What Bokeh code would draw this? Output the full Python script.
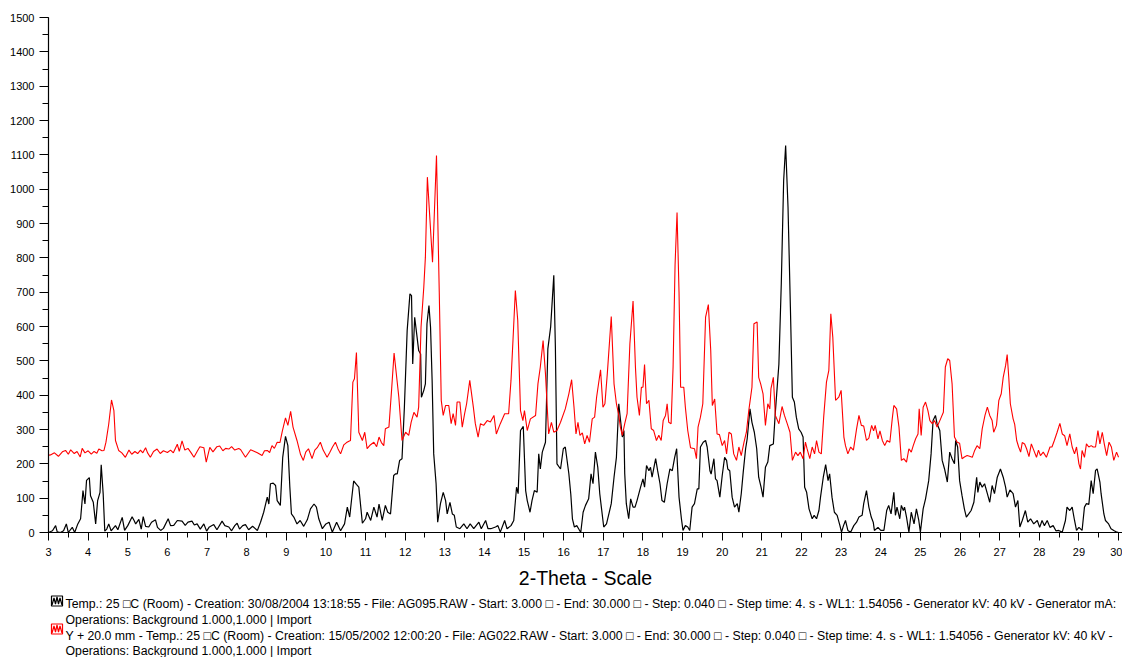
from bokeh.plotting import figure
from bokeh.models import Range1d, FixedTicker
from bokeh.layouts import column
from bokeh.embed import file_html
from bokeh.resources import INLINE
from bokeh.core.properties import value

# ---------------- data ----------------
# Scan 1 (black): 2-Theta positions and counts
black_x = [3.0, 3.1, 3.18, 3.22, 3.3, 3.38, 3.45, 3.5, 3.6, 3.66, 3.74, 3.81, 3.87, 3.92, 3.96, 4.03, 4.06,
           4.13, 4.19, 4.24, 4.3, 4.33, 4.38, 4.42, 4.47, 4.52, 4.58, 4.69, 4.75, 4.86, 4.92, 5.0, 5.11, 5.16,
           5.2, 5.28, 5.34, 5.39, 5.45, 5.53, 5.6, 5.7, 5.75, 5.83, 5.9, 6.02, 6.08, 6.16, 6.25, 6.37, 6.45,
           6.52, 6.62, 6.68, 6.75, 6.83, 6.92, 6.99, 7.05, 7.17, 7.25, 7.38, 7.45, 7.55, 7.62, 7.7, 7.76, 7.82,
           7.9, 7.97, 8.05, 8.15, 8.27, 8.35, 8.43, 8.52, 8.56, 8.6, 8.67, 8.73, 8.77, 8.85, 8.91, 8.98, 9.04,
           9.09, 9.13, 9.19, 9.27, 9.35, 9.44, 9.53, 9.61, 9.7, 9.76, 9.82, 9.91, 10.0, 10.08, 10.16, 10.27,
           10.37, 10.47, 10.54, 10.6, 10.64, 10.7, 10.77, 10.83, 10.92, 11.0, 11.04, 11.13, 11.21, 11.29,
           11.34, 11.42, 11.5, 11.56, 11.63, 11.71, 11.76, 11.8, 11.86, 11.92, 11.98, 12.05, 12.12, 12.16,
           12.19, 12.24, 12.3, 12.34, 12.39, 12.41, 12.47, 12.51, 12.55, 12.6, 12.64, 12.68, 12.72, 12.78,
           12.82, 12.89, 12.96, 13.02, 13.06, 13.13, 13.19, 13.24, 13.29, 13.38, 13.48, 13.56, 13.64, 13.73,
           13.86, 13.92, 14.03, 14.09, 14.16, 14.28, 14.34, 14.4, 14.51, 14.57, 14.67, 14.74, 14.81, 14.85,
           14.91, 14.98, 15.04, 15.08, 15.15, 15.2, 15.26, 15.33, 15.37, 15.41, 15.46, 15.54, 15.6, 15.67,
           15.75, 15.79, 15.83, 15.92, 15.99, 16.04, 16.13, 16.18, 16.22, 16.27, 16.33, 16.38, 16.43, 16.49,
           16.55, 16.63, 16.69, 16.74, 16.8, 16.86, 16.91, 16.95, 17.01, 17.08, 17.14, 17.2, 17.27, 17.33,
           17.39, 17.43, 17.48, 17.52, 17.54, 17.58, 17.64, 17.69, 17.75, 17.8, 17.85, 17.94, 18.0, 18.04,
           18.09, 18.15, 18.19, 18.23, 18.32, 18.37, 18.43, 18.48, 18.54, 18.61, 18.68, 18.74, 18.8, 18.85,
           18.91, 18.97, 19.01, 19.07, 19.13, 19.18, 19.24, 19.3, 19.37, 19.41, 19.45, 19.52, 19.58, 19.62,
           19.69, 19.72, 19.79, 19.83, 19.87, 19.94, 20.0, 20.06, 20.11, 20.14, 20.19, 20.25, 20.31, 20.38,
           20.42, 20.48, 20.53, 20.59, 20.63, 20.7, 20.75, 20.81, 20.87, 20.92, 20.98, 21.03, 21.09, 21.15,
           21.2, 21.29, 21.34, 21.43, 21.49, 21.55, 21.6, 21.66, 21.72, 21.77, 21.82, 21.87, 21.93, 21.99,
           22.04, 22.08, 22.13, 22.19, 22.27, 22.32, 22.38, 22.44, 22.48, 22.55, 22.61, 22.67, 22.71, 22.77,
           22.83, 22.9, 22.97, 23.01, 23.06, 23.11, 23.17, 23.24, 23.32, 23.39, 23.45, 23.53, 23.57, 23.64,
           23.7, 23.76, 23.81, 23.84, 23.93, 24.0, 24.08, 24.15, 24.2, 24.26, 24.33, 24.37, 24.41, 24.48,
           24.52, 24.57, 24.6, 24.65, 24.71, 24.77, 24.84, 24.9, 24.96, 25.0, 25.07, 25.13, 25.21, 25.27,
           25.32, 25.38, 25.42, 25.49, 25.55, 25.61, 25.68, 25.74, 25.8, 25.86, 25.89, 25.94, 25.99, 26.05,
           26.11, 26.16, 26.22, 26.28, 26.35, 26.42, 26.45, 26.5, 26.56, 26.62, 26.69, 26.75, 26.81, 26.87,
           26.94, 27.02, 27.09, 27.15, 27.19, 27.26, 27.34, 27.4, 27.46, 27.51, 27.57, 27.65, 27.71, 27.78,
           27.86, 27.95, 28.01, 28.07, 28.13, 28.2, 28.27, 28.35, 28.42, 28.49, 28.58, 28.66, 28.7, 28.77,
           28.83, 28.89, 28.94, 29.0, 29.08, 29.14, 29.19, 29.25, 29.31, 29.36, 29.42, 29.46, 29.53, 29.56,
           29.63, 29.67, 29.75, 29.81, 29.88, 29.96, 30.0]
black_y = [0, 5, 20, 2, 0, 5, 25, 0, 15, 0, 25, 40, 122, 83, 152, 160, 107,
           88, 25, 93, 117, 197, 112, 4, 10, 25, 5, 20, 8, 44, 6, 20, 46, 35,
           25, 38, 10, 46, 18, 16, 30, 37, 15, 6, 12, 40, 20, 21, 35, 33, 21,
           30, 33, 22, 25, 10, 25, 4, 15, 23, 8, 33, 20, 16, 5, 20, 27, 10,
           20, 23, 8, 18, 6, 30, 59, 103, 83, 142, 144, 137, 93, 79, 219, 280, 253,
           132, 54, 45, 25, 35, 18, 37, 69, 83, 74, 40, 11, 25, 30, 1, 30,
           5, 25, 74, 45, 88, 150, 140, 132, 27, 40, 59, 35, 74, 45,
           83, 35, 79, 59, 54, 166, 171, 171, 210, 215, 365, 588, 695, 690,
           491, 627, 569, 530, 520, 394, 414, 433, 608, 661, 598, 443, 229, 142,
           30, 84, 117, 93, 54, 88, 54, 50, 16, 11, 25, 11, 25, 11,
           30, 11, 35, 11, 11, 16, 20, 1, 35, 11, 20, 35, 132, 113,
           297, 309, 122, 93, 59, 93, 122, 117, 229, 185, 234, 263, 535, 598,
           749, 540, 200, 185, 244, 249, 171, 110, 40, 16, 20, 10, 0, 59,
           79, 98, 171, 142, 234, 190, 113, 74, 16, 25, 54, 84, 161, 219,
           375, 331, 278, 297, 171, 84, 40, 98, 74, 74, 93, 132, 156, 132,
           195, 180, 190, 161, 215, 180, 142, 93, 88, 142, 185, 180, 219, 244,
           103, 40, 6, 20, 16, 6, 74, 84, 127, 127, 249, 263, 268, 249,
           180, 170, 215, 156, 151, 103, 166, 219, 210, 185, 180, 103, 74, 84,
           59, 113, 176, 244, 273, 360, 321, 292, 244, 161, 132, 103, 190, 205,
           253, 258, 350, 491, 724, 1025, 1127, 948, 656, 394, 380, 336, 302, 292,
           278, 132, 117, 69, 40, 50, 40, 64, 103, 161, 198, 151, 171, 103,
           59, 50, 20, 1, 20, 35, 6, 1, 20, 30, 45, 50, 84, 122,
           74, 45, 30, 6, 15, 6, 6, 64, 79, 54, 117, 50, 74, 40,
           79, 64, 74, 45, 1, 59, 25, 69, 35, 1, 69, 98, 151, 229,
           326, 341, 317, 297, 210, 185, 147, 234, 215, 200, 268, 249, 151, 108,
           69, 45, 54, 64, 88, 161, 117, 147, 132, 142, 113, 88, 137, 113,
           161, 185, 161, 132, 103, 124, 113, 74, 93, 16, 35, 64, 30, 40,
           25, 35, 15, 35, 20, 35, 15, 20, 5, 6, 1, 35, 74, 64,
           74, 35, 6, 15, 6, 74, 84, 82, 151, 113, 181, 185, 147, 113,
           54, 35, 25, 11, 6, 1, 0]

# Scan 2 (red, Y + 20.0 mm): 2-Theta positions and counts
red_x = [3.0, 3.05, 3.15, 3.25, 3.35, 3.43, 3.5, 3.56, 3.65, 3.72, 3.8, 3.85, 3.92, 4.0, 4.08, 4.15, 4.22,
         4.27, 4.35, 4.4, 4.45, 4.52, 4.59, 4.65, 4.69, 4.77, 4.85, 4.94, 5.03, 5.1, 5.18, 5.25, 5.32, 5.38,
         5.45, 5.5, 5.57, 5.65, 5.74, 5.82, 5.9, 6.0, 6.08, 6.15, 6.25, 6.3, 6.37, 6.44, 6.52, 6.6, 6.67,
         6.75, 6.82, 6.92, 6.98, 7.07, 7.15, 7.25, 7.32, 7.4, 7.47, 7.55, 7.62, 7.7, 7.8, 7.85, 7.97, 8.1,
         8.2, 8.27, 8.39, 8.45, 8.52, 8.58, 8.64, 8.7, 8.77, 8.84, 8.9, 8.98, 9.04, 9.11, 9.17, 9.27, 9.36,
         9.43, 9.49, 9.56, 9.65, 9.72, 9.78, 9.86, 9.93, 10.03, 10.1, 10.17, 10.24, 10.3, 10.37, 10.45,
         10.52, 10.58, 10.62, 10.68, 10.72, 10.77, 10.83, 10.92, 10.98, 11.04, 11.12, 11.21, 11.28, 11.34,
         11.4, 11.46, 11.5, 11.59, 11.66, 11.72, 11.84, 11.92, 12.01, 12.09, 12.15, 12.22, 12.3, 12.34,
         12.4, 12.47, 12.51, 12.56, 12.69, 12.79, 12.86, 12.91, 12.96, 13.02, 13.1, 13.16, 13.21, 13.27,
         13.31, 13.38, 13.44, 13.5, 13.55, 13.63, 13.72, 13.77, 13.84, 13.9, 13.98, 14.07, 14.15, 14.24,
         14.3, 14.4, 14.51, 14.61, 14.67, 14.72, 14.78, 14.84, 14.91, 14.97, 15.01, 15.08, 15.16, 15.29,
         15.35, 15.41, 15.48, 15.54, 15.62, 15.69, 15.75, 15.83, 15.92, 16.04, 16.13, 16.2, 16.26, 16.31,
         16.36, 16.41, 16.47, 16.53, 16.59, 16.65, 16.72, 16.78, 16.83, 16.93, 16.99, 17.04, 17.1, 17.2,
         17.27, 17.33, 17.39, 17.43, 17.48, 17.54, 17.6, 17.67, 17.75, 17.81, 17.85, 17.91, 17.96, 18.0,
         18.04, 18.09, 18.15, 18.21, 18.27, 18.34, 18.4, 18.46, 18.51, 18.57, 18.61, 18.65, 18.71, 18.76,
         18.81, 18.86, 18.91, 18.95, 19.03, 19.07, 19.13, 19.2, 19.3, 19.35, 19.39, 19.45, 19.51, 19.58,
         19.65, 19.71, 19.75, 19.81, 19.87, 19.93, 20.0, 20.06, 20.11, 20.17, 20.23, 20.29, 20.36, 20.42,
         20.48, 20.55, 20.61, 20.67, 20.75, 20.8, 20.88, 20.92, 20.97, 21.03, 21.09, 21.15, 21.2, 21.23,
         21.29, 21.34, 21.43, 21.51, 21.57, 21.64, 21.71, 21.77, 21.85, 21.91, 21.97, 22.04, 22.1, 22.14,
         22.21, 22.27, 22.33, 22.38, 22.44, 22.5, 22.56, 22.63, 22.69, 22.74, 22.79, 22.86, 22.94, 23.0,
         23.07, 23.11, 23.17, 23.24, 23.31, 23.39, 23.45, 23.51, 23.57, 23.64, 23.7, 23.77, 23.82, 23.86,
         23.93, 23.98, 24.04, 24.1, 24.16, 24.23, 24.29, 24.33, 24.4, 24.46, 24.52, 24.58, 24.65, 24.71,
         24.77, 24.82, 24.88, 24.94, 24.97, 25.02, 25.07, 25.13, 25.19, 25.24, 25.3, 25.36, 25.42, 25.51,
         25.58, 25.63, 25.69, 25.74, 25.8, 25.86, 25.93, 25.99, 26.05, 26.11, 26.18, 26.24, 26.31, 26.37,
         26.43, 26.5, 26.56, 26.63, 26.69, 26.75, 26.81, 26.85, 26.92, 26.98, 27.04, 27.09, 27.15, 27.19,
         27.23, 27.27, 27.34, 27.38, 27.43, 27.48, 27.53, 27.57, 27.63, 27.68, 27.74, 27.8, 27.86, 27.93,
         27.98, 28.03, 28.1, 28.18, 28.27, 28.32, 28.38, 28.45, 28.52, 28.58, 28.64, 28.7, 28.77, 28.83,
         28.89, 28.94, 29.0, 29.04, 29.08, 29.14, 29.19, 29.25, 29.31, 29.36, 29.42, 29.48, 29.53, 29.59,
         29.64, 29.7, 29.76, 29.82, 29.88, 29.95, 30.0]
red_y = [225, 226, 232, 222, 235, 239, 228, 241, 230, 236, 220, 245, 232, 238, 228, 236, 231,
         243, 238, 239, 263, 316, 386, 355, 268, 239, 232, 219, 240, 228, 236, 230, 240, 232,
         247, 232, 219, 236, 243, 230, 238, 233, 240, 232, 257, 236, 267, 240, 245, 232, 219,
         236, 250, 247, 205, 248, 235, 250, 252, 238, 245, 243, 250, 240, 245, 241, 219, 241,
         236, 232, 224, 238, 239, 233, 253, 245, 263, 262, 295, 334, 312, 353, 307, 268, 227,
         210, 234, 244, 215, 240, 247, 263, 240, 219, 234, 250, 263, 245, 229, 255,
         262, 266, 268, 438, 448, 524, 292, 268, 292, 244, 255, 263, 250, 278,
         262, 253, 302, 307, 420, 523, 394, 268, 292, 283, 321, 350, 336, 365,
         598, 715, 802, 1035, 787, 1098, 700, 385, 341, 370, 370, 317, 346, 312,
         380, 380, 307, 346, 375, 443, 365, 317, 278, 317, 312, 326, 322, 341,
         287, 317, 346, 346, 443, 559, 705, 618, 355, 326, 355, 297, 331, 341,
         433, 482, 559, 462, 287, 321, 292, 297, 321, 360, 404, 445, 365, 287,
         321, 283, 290, 258, 283, 263, 331, 336, 394, 474, 365, 375, 462, 629,
         433, 375, 341, 307, 283, 317, 346, 550, 674, 482, 394, 341, 423, 423,
         489, 375, 385, 302, 297, 268, 283, 268, 326, 341, 375, 321, 317, 482,
         780, 932, 700, 423, 423, 365, 297, 247, 244, 215, 307, 336, 375, 627,
         664, 530, 370, 389, 287, 285, 253, 268, 229, 292, 287, 229, 210, 249,
         224, 263, 292, 355, 423, 608, 613, 452, 433, 404, 312, 375, 360, 419,
         452, 341, 317, 367, 341, 317, 292, 210, 234, 224, 234, 215, 263, 244,
         215, 249, 229, 268, 234, 229, 336, 438, 472, 637, 569, 385, 394, 414,
         278, 253, 229, 249, 240, 302, 341, 312, 310, 268, 275, 312, 296, 312,
         273, 296, 268, 253, 268, 263, 331, 370, 360, 307, 210, 215, 205, 244,
         234, 253, 273, 287, 360, 283, 365, 380, 355, 326, 317, 326, 307, 331,
         350, 482, 506, 501, 433, 278, 263, 260, 215, 220, 224, 222, 219, 239,
         253, 244, 302, 341, 365, 341, 326, 292, 312, 385, 404, 452, 486, 518,
         452, 375, 331, 315, 268, 249, 234, 262, 258, 244, 221, 258, 240, 219,
         240, 224, 234, 219, 249, 249, 268, 292, 318, 287, 282, 253, 287, 249,
         229, 249, 200, 185, 239, 219, 258, 249, 253, 249, 249, 297, 258, 292,
         258, 224, 263, 249, 210, 234, 219]

x_ticks = list(range(3, 31))
x_minor = [3 + 0.5 * i for i in range(55)]
y_ticks = list(range(0, 1501, 100))
y_minor = list(range(0, 1501, 50))

legend_lines = [
    "Temp.: 25 \u25a1C (Room) - Creation: 30/08/2004 13:18:55 - File: AG095.RAW - Start: 3.000 \u25a1 - End: 30.000 \u25a1 - Step: 0.040 \u25a1 - Step time: 4. s - WL1: 1.54056 - Generator kV: 40 kV - Generator mA:",
    "Operations: Background 1.000,1.000 | Import",
    "Y + 20.0 mm - Temp.: 25 \u25a1C (Room) - Creation: 15/05/2002 12:00:20 - File: AG022.RAW - Start: 3.000 \u25a1 - End: 30.000 \u25a1 - Step: 0.040 \u25a1 - Step time: 4. s - WL1: 1.54056 - Generator kV: 40 kV -",
    "Operations: Background 1.000,1.000 | Import",
]
legend_colors = ["black", "#ff0000"]

FONT = "Liberation Sans"
W = 1122
LEFT = 48

# ---------------- main plot ----------------
p = figure(width=W, height=592, x_range=Range1d(3, 30.1), y_range=Range1d(0, 1500),
           output_backend="svg", toolbar_location=None,
           min_border_left=LEFT, min_border_right=0, min_border_top=17, min_border_bottom=60)
p.grid.visible = False
p.outline_line_color = None
p.background_fill_color = "white"
p.border_fill_color = "white"

p.line(black_x, black_y, line_color="black", line_width=1.2)
p.line(red_x, red_y, line_color="#ff0000", line_width=1.1)

for ax in (p.xaxis[0], p.yaxis[0]):
    ax.axis_line_color = "black"
    ax.axis_line_width = 1.2
    ax.major_tick_line_color = "black"
    ax.minor_tick_line_color = "black"
    ax.major_tick_in = 0
    ax.minor_tick_in = 0
    ax.major_label_text_font = FONT
    ax.major_label_text_font_size = "11px"
    ax.major_label_text_color = "black"

p.xaxis.ticker = FixedTicker(ticks=x_ticks, minor_ticks=x_minor)
p.xaxis.major_tick_out = 8
p.xaxis.minor_tick_out = 5
p.xaxis.major_label_standoff = 7
p.xaxis.axis_label = "2-Theta - Scale"
p.xaxis.axis_label_text_font = FONT
p.xaxis.axis_label_text_font_size = "19.5px"
p.xaxis.axis_label_text_font_style = "normal"
p.xaxis.axis_label_text_color = "black"
p.xaxis.axis_label_standoff = 8

p.yaxis.ticker = FixedTicker(ticks=y_ticks, minor_ticks=y_minor)
p.yaxis.major_tick_out = 9
p.yaxis.minor_tick_out = 6
p.yaxis.major_label_standoff = 5

# ---------------- legend strip (pixel coordinates) ----------------
q = figure(width=W, height=65, x_range=Range1d(LEFT, W), y_range=Range1d(657, 592),
           output_backend="svg", toolbar_location=None,
           min_border_left=LEFT, min_border_right=0, min_border_top=0, min_border_bottom=0,
           x_axis_location=None, y_axis_location=None)
q.grid.visible = False
q.outline_line_color = None

text_y = [603.5, 619, 635, 650]
q.text(x=[65] * 4, y=text_y, text=legend_lines, text_font=value(FONT), text_font_size="12.3px",
       text_baseline="middle", text_align="left", text_color="black")

icon_rows = [600.5, 628.5]
for cy, col in zip(icon_rows, legend_colors):
    q.rect(x=[56.5], y=[cy], width=11, height=10, fill_color=None, line_color=col, line_width=1.2)
    zx = [51.5, 53.5, 55, 56.5, 58, 59.5, 61.5]
    zy = [cy + 4, cy - 3, cy + 3, cy - 4, cy + 3, cy - 3, cy + 4]
    q.line(zx, zy, line_color=col, line_width=1.2)

layout = column(p, q, spacing=0)
open("out.html", "w").write(file_html(layout, INLINE))
